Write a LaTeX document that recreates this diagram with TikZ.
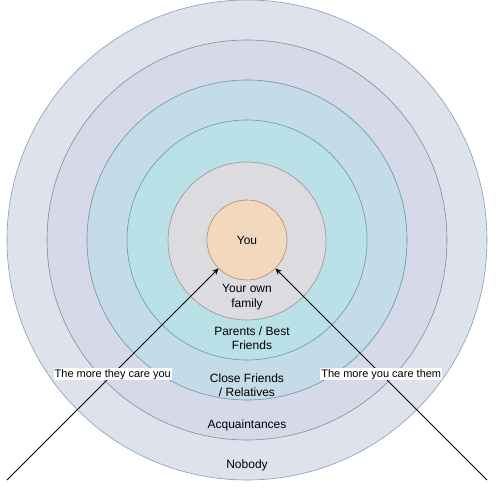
\documentclass[tikz,border=0pt]{standalone}
\usepackage{fontspec}
\setmainfont{Liberation Sans}
\usepackage{tikz}
\usetikzlibrary{arrows.meta,positioning}
\definecolor{nobodyfill}{rgb}{0.87, 0.89, 0.92}
\definecolor{nobodyline}{rgb}{0.52, 0.62, 0.71}
\definecolor{acqfill}{rgb}{0.84, 0.85, 0.91}
\definecolor{acqline}{rgb}{0.50, 0.55, 0.65}
\definecolor{closefill}{rgb}{0.77, 0.86, 0.91}
\definecolor{closeline}{rgb}{0.40, 0.58, 0.70}
\definecolor{parentfill}{rgb}{0.73, 0.88, 0.91}
\definecolor{parentline}{rgb}{0.40, 0.60, 0.66}
\definecolor{familyfill}{rgb}{0.86, 0.86, 0.88}
\definecolor{familyline}{rgb}{0.66, 0.56, 0.56}
\definecolor{youfill}{rgb}{0.95, 0.85, 0.74}
\definecolor{youline}{rgb}{0.70, 0.55, 0.38}
\tikzset{
  ring/.style={
    circle,
    line width=0.6pt,
    inner sep=0pt
  },
  ringtext/.style={
    align=center,
    font=\fontsize{12}{14.5}\selectfont
  },
  care/.style={
    fill=white,
    inner sep=1pt,
    font=\fontsize{11}{13}\selectfont
  },
  arrow/.style={
    -{Stealth[length=2.2mm,width=2mm]},
    line width=0.75pt,
    black
  }
}
\begin{document}
\begin{tikzpicture}[x=1pt,y=-1pt]
\useasboundingbox (0,0) rectangle (496,489);
\node[ring, draw=nobodyline, fill=nobodyfill, minimum size=480pt] (nobody) at (247,240) {};
\node[ring, draw=acqline, fill=acqfill, minimum size=400pt] (acq) at (247,240) {};
\node[ring, draw=closeline, fill=closefill, minimum size=320pt] (close) at (247,240) {};
\node[ring, draw=parentline, fill=parentfill, minimum size=240pt] (parents) at (247,240) {};
\node[ring, draw=familyline, fill=familyfill, minimum size=158pt] (family) at (247,241) {};
\node[ring, draw=youline, fill=youfill, minimum size=80pt, font=\fontsize{12}{14}\selectfont] (you) at (247,240) {You};
\node[ringtext] (familytxt) at (247,297) {Your own\\family};
\node[ringtext] (parentstxt) at (252,338) {Parents / Best\\Friends};
\node[ringtext] (closetxt) at (247,385) {Close Friends\\/ Relatives};
\node[ringtext] (acqtxt) at (247,425) {Acquaintances};
\node[ringtext] (nobodytxt) at (247,465) {Nobody};
\coordinate (lstart) at (7,480);
\coordinate (rstart) at (487,480);
\draw[arrow] (lstart) -- node[care, pos=0.5] (theycare) {The more they care you} (you);
\draw[arrow] (rstart) -- node[care, pos=0.5] (youcare) {The more you care them} (you);
\end{tikzpicture}
\end{document}
